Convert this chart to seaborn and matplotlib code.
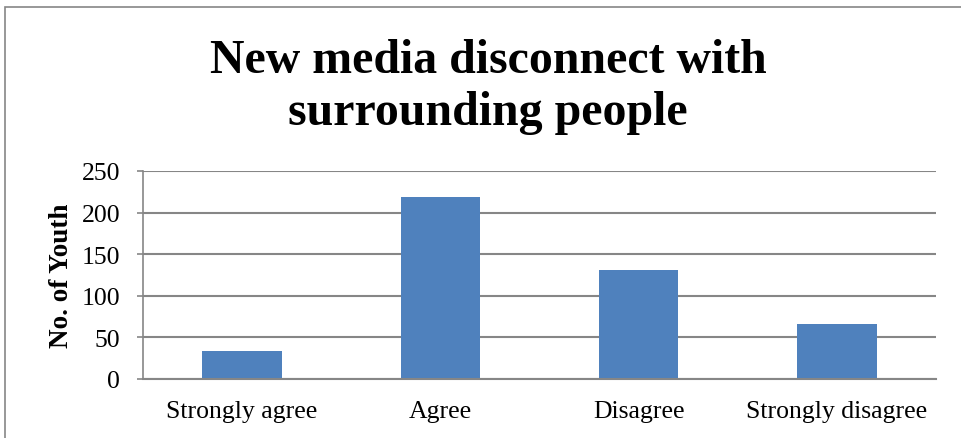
import matplotlib
matplotlib.use("Agg")
import matplotlib.pyplot as plt
import seaborn as sns
import pandas as pd
from matplotlib.patches import Rectangle

categories = ["Strongly agree", "Agree", "Disagree", "Strongly disagree"]
youth_counts = [34, 219, 131, 66]
y_ticks = [0, 50, 100, 150, 200, 250]

title = "New media disconnect with\nsurrounding people"
y_label = "No. of Youth"

df = pd.DataFrame({"response": categories, "count": youth_counts})

sns.set_theme(style="white")
plt.rcParams["font.family"] = ["Liberation Serif", "DejaVu Serif"]
plt.rcParams["text.color"] = "black"
plt.rcParams["axes.labelcolor"] = "black"
plt.rcParams["xtick.color"] = "black"
plt.rcParams["ytick.color"] = "black"

W, H = 962, 439
fig = plt.figure(figsize=(W / 100, H / 100), dpi=100)
ax = fig.add_axes([143 / W, 1 - 380 / H, (936 - 143) / W, (380 - 172) / H])

sns.barplot(data=df, x="response", y="count", color="#4F81BD", width=0.4,
            saturation=1, ax=ax, linewidth=0)

ax.set_ylim(0, 250)
ax.set_xlim(-0.5, len(categories) - 0.5)
ax.set_yticks(y_ticks)
ax.set_yticklabels([str(t) for t in y_ticks], fontsize=18.5)
ax.tick_params(axis="x", length=0, pad=15, labelsize=18.5)
ax.tick_params(axis="y", length=4.3, width=1.2, color="#868686", left=True,
               direction="out", pad=12, labelcolor="black")
ax.yaxis.grid(True, color="#868686", linewidth=1.5)
ax.set_axisbelow(True)
for side in ("top", "right"):
    ax.spines[side].set_visible(False)
ax.spines["left"].set_color("#868686")
ax.spines["left"].set_linewidth(1.2)
ax.spines["bottom"].set_color("#868686")
ax.spines["bottom"].set_linewidth(1.5)
ax.set_xlabel("")
ax.set_ylabel(y_label, fontsize=19.5, fontweight="bold")
ax.yaxis.set_label_coords(74 / W, 1 - 276 / H, transform=fig.transFigure)

fig.text(488 / W, 1 - 87 / H, title, ha="center", va="center",
         fontsize=34.5, fontweight="bold", linespacing=1.25)

# chart area frame
fig.add_artist(Rectangle((5 / W, -0.05), 1.1, 1 - 8 / H + 0.05,
                         transform=fig.transFigure, fill=False,
                         edgecolor="#868686", linewidth=1.2))

fig.savefig("out.png", dpi=100)
